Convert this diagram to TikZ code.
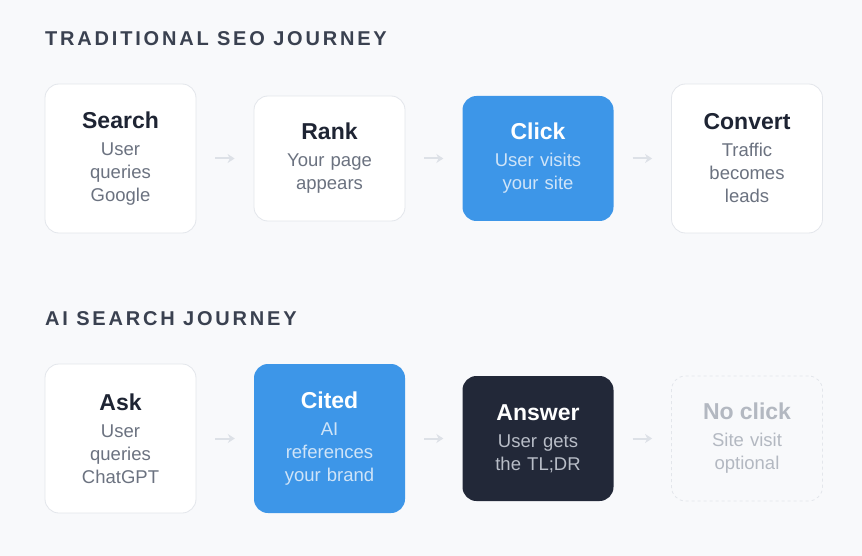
\documentclass[tikz,border=0pt]{standalone}
\usepackage{fontspec}
\setmainfont{Liberation Sans}
\newfontfamily\headf[LetterSpace=14]{Liberation Sans}
\usetikzlibrary{arrows.meta}
\definecolor{bgc}{HTML}{F8F9FB}
\definecolor{headc}{HTML}{3A4150}
\definecolor{bordc}{HTML}{E3E6EB}
\definecolor{titc}{HTML}{1E2433}
\definecolor{subc}{HTML}{6B7280}
\definecolor{bluec}{HTML}{3D96E8}
\definecolor{bluesub}{HTML}{CFE4F8}
\definecolor{darkc}{HTML}{222838}
\definecolor{darksub}{HTML}{B8BDC7}
\definecolor{fadec}{HTML}{B3B8C1}
\definecolor{arrc}{HTML}{DDE1E7}
\newcommand{\ttl}[1]{{\fontsize{23}{26}\selectfont\bfseries #1}\\[4pt]}
\tikzset{
 box/.style={rounded corners=14pt,minimum width=151pt,align=center,text width=140pt,
   font=\fontsize{18.5}{23}\selectfont,inner sep=0pt},
 wbox/.style={box,draw=bordc,line width=0.8pt,fill=white,text=subc},
 bbox/.style={box,fill=bluec,text=bluesub},
 dbox/.style={box,fill=darkc,text=darksub},
 fbox/.style={box,draw=bordc,dashed,line width=0.8pt,text=fadec},
 tall/.style={minimum height=149pt},
 short/.style={minimum height=125pt},
 heading/.style={anchor=west,text=headc,font=\headf\fontsize{20}{22}\selectfont\bfseries,inner sep=0pt},
 conn/.style={draw=arrc,line width=2pt,-{Stealth[length=7pt,width=9pt]},shorten <=19pt,shorten >=19pt}
}
\begin{document}
\begin{tikzpicture}[x=1pt,y=-1pt]
\fill[bgc] (0,0) rectangle (862,556);
\useasboundingbox (0,0) rectangle (862,556);
\node[heading] (h1) at (45,39) {TRADITIONAL SEO JOURNEY};
\node[heading] (h2) at (45,319) {AI SEARCH JOURNEY};
\node[wbox,tall] (search) at (120.5,158.5) {\ttl{\color{titc}Search}User\\queries\\Google};
\node[wbox,short] (rank) at (329.5,158.5) {\ttl{\color{titc}Rank}Your page\\appears};
\node[bbox,short] (click) at (538,158.5) {\ttl{\color{white}Click}User visits\\your site};
\node[wbox,tall] (convert) at (747,158.5) {\ttl{\color{titc}Convert}Traffic\\becomes\\leads};
\node[wbox,tall] (ask) at (120.5,438.5) {\ttl{\color{titc}Ask}User\\queries\\ChatGPT};
\node[bbox,tall] (cited) at (329.5,438.5) {\ttl{\color{white}Cited}AI\\references\\your brand};
\node[dbox,short] (answer) at (538,438.5) {\ttl{\color{white}Answer}User gets\\the TL;DR};
\node[fbox,short] (noclick) at (747,438.5) {\ttl{No click}Site visit\\optional};
\draw[conn] (search.east) -- (rank.west);
\draw[conn] (rank.east) -- (click.west);
\draw[conn] (click.east) -- (convert.west);
\draw[conn] (ask.east) -- (cited.west);
\draw[conn] (cited.east) -- (answer.west);
\draw[conn] (answer.east) -- (noclick.west);
\end{tikzpicture}
\end{document}
